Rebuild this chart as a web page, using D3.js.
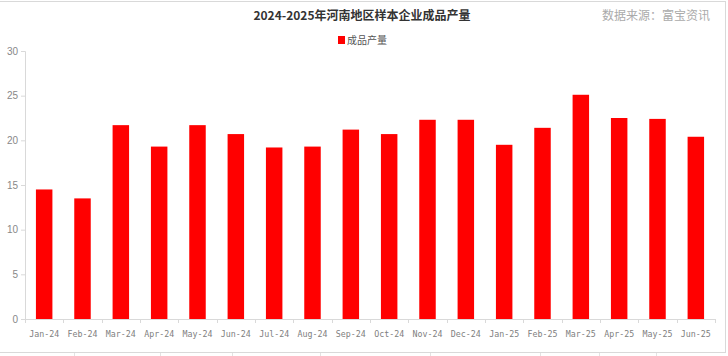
<!DOCTYPE html>
<html><head><meta charset="utf-8">
<script src="https://cdn.jsdelivr.net/npm/d3@7"></script>
<style>body{margin:0;background:#fff}svg{display:block}</style>
</head><body><svg id="c" width="728" height="356"></svg>
<script>
const categories = ["Jan-24","Feb-24","Mar-24","Apr-24","May-24","Jun-24","Jul-24","Aug-24","Sep-24","Oct-24","Nov-24","Dec-24","Jan-25","Feb-25","Mar-25","Apr-25","May-25","Jun-25"];
const values = [14.5,13.5,21.7,19.3,21.7,20.7,19.2,19.3,21.2,20.7,22.3,22.3,19.5,21.4,25.1,22.5,22.4,20.4];
const yTicks = [0,5,10,15,20,25,30];
const seriesName = "成品产量";
const title = "2024-2025年河南地区样本企业成品产量";
const source = "数据来源：富宝资讯";

const svg = d3.select("#c");
const cjk = "'Noto Sans CJK SC','Noto Sans',sans-serif";

// outer frame / sheet lines
svg.append("rect").attr("x",-1).attr("y",1.5).attr("width",726.5).attr("height",351)
  .attr("fill","none").attr("stroke","#d9d9d9");
[74,160,232,320,430,540,599,656].forEach(x=>{
  svg.append("line").attr("x1",x+0.5).attr("x2",x+0.5).attr("y1",353).attr("y2",356).attr("stroke","#e3e3e3");
});

const x = d3.scaleBand().domain(categories).range([25,715]).paddingInner(0.57).paddingOuter(0.285);
const y = d3.scaleLinear().domain([0,30]).range([319,51]);

// y axis
const ya = svg.append("g").attr("transform","translate(25,0)")
  .call(d3.axisLeft(y).tickValues(yTicks).tickSize(4).tickPadding(3));
ya.select(".domain").attr("stroke","#d9d9d9").attr("d","M-4,51.5H0.5V319.5");
ya.selectAll(".tick line").attr("stroke","#d9d9d9");
ya.selectAll("text").attr("fill","#888").style("font-family","'Liberation Sans',sans-serif").style("font-size","10px");

// x axis
const xa = svg.append("g").attr("transform","translate(0,319)")
  .call(d3.axisBottom(x).tickSize(0).tickPadding(12));
xa.select(".domain").attr("stroke","#d9d9d9").attr("d","M25.5,0.5H715.5");
xa.selectAll("text").attr("fill","#808080").style("font-family","'DejaVu Sans Mono',monospace").style("font-size","8.3px");
const step = x.step();
xa.selectAll(".bnd").data(d3.range(categories.length+1)).enter().append("line")
  .attr("x1",i=>Math.round(25+i*step)+0.5).attr("x2",i=>Math.round(25+i*step)+0.5)
  .attr("y1",0).attr("y2",4).attr("stroke","#d9d9d9");

// bars
svg.append("g").selectAll("rect").data(values).enter().append("rect")
  .attr("x",(d,i)=>x(categories[i]))
  .attr("width",x.bandwidth())
  .attr("y",d=>y(d))
  .attr("height",d=>y(0)-y(d))
  .attr("fill","#ff0000");

// title
svg.append("text").attr("x",362).attr("y",20).attr("text-anchor","middle")
  .style("font-family",cjk).style("font-size","12px").style("font-weight","bold").attr("fill","#333")
  .text(title);
svg.append("text").attr("x",710).attr("y",20).attr("text-anchor","end")
  .style("font-family",cjk).style("font-size","12px").attr("fill","#aaa").text(source);

// legend
svg.append("rect").attr("x",338).attr("y",36).attr("width",7).attr("height",8).attr("fill","#ff0000");
svg.append("text").attr("x",347).attr("y",44).style("font-family",cjk).style("font-size","10px")
  .attr("fill","#555").text(seriesName);
</script></body></html>
